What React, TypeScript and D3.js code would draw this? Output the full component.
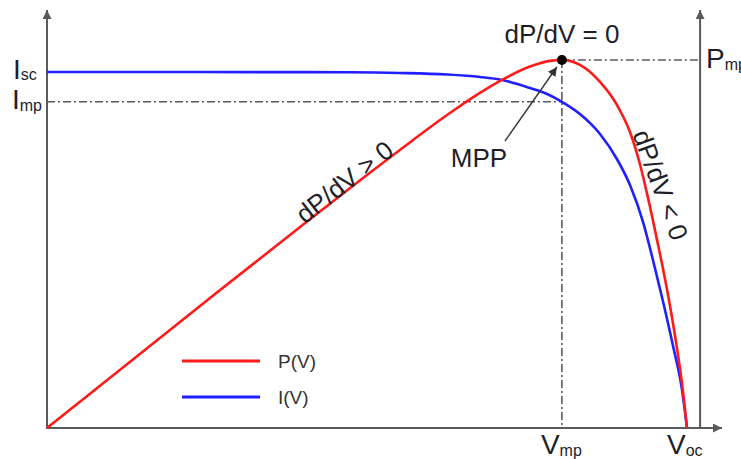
import React from "react";
import * as d3 from "d3";

// ---- data ----
const V_OC = 22.0;
const V_MP = 17.7;
const I_SC = 8.0;
const I_MP = 7.33;
const P_MP = 129.7;

const pVolts = [0, 5.26, 8.7, 12.13, 13.85, 14.88, 15.64, 16.6, 17.29, 17.7, 18.32, 19.01, 19.59, 20.04, 20.39, 20.66, 20.97, 21.31, 21.59, 21.83, 22.0];
const pWatts = [0, 43.0, 70.85, 98.0, 111.0, 118.1, 122.7, 127.4, 129.4, 129.7, 128.0, 122.0, 113.9, 104.3, 92.7, 81.1, 66.3, 49.0, 32.4, 15.5, 0];

const iVolts = [0, 5.26, 10.42, 12.13, 13.75, 14.88, 15.64, 16.6, 17.19, 17.7, 18.32, 19.01, 19.59, 20.04, 20.49, 20.83, 21.18, 21.52, 21.83, 22.0];
const iAmps = [8.0, 8.0, 7.993, 7.978, 7.944, 7.888, 7.82, 7.64, 7.506, 7.33, 7.056, 6.607, 6.045, 5.461, 4.629, 3.775, 2.831, 1.843, 0.854, 0];

const legendLabels = ["P(V)", "I(V)"];
const legendColors = ["#ff1a1a", "#1f1fff"];

const W = 741;
const H = 459;
const FONT = "'Liberation Sans', Arial, Helvetica, sans-serif";
const AXIS = "#5a5a5a";
const TXT = "#1e1e28";

export default function App() {
  const x = d3.scaleLinear().domain([0, V_OC]).range([47, 687]);
  const yI = d3.scaleLinear().domain([0, I_SC]).range([428, 72]);
  const yP = d3.scaleLinear().domain([0, P_MP]).range([428, 60]);

  const pData = pVolts.map((v, i) => [v, pWatts[i]] as [number, number]);
  const iData = iVolts.map((v, i) => [v, iAmps[i]] as [number, number]);

  const pLine = d3
    .line<[number, number]>()
    .x((d) => x(d[0]))
    .y((d) => yP(d[1]))
    .curve(d3.curveMonotoneX);
  const iLine = d3
    .line<[number, number]>()
    .x((d) => x(d[0]))
    .y((d) => yI(d[1]))
    .curve(d3.curveMonotoneX);

  const x0 = x(0);
  const y0 = yI(0);
  const xRight = x(22.45);
  const yTop = 10;
  const xEnd = 722;
  const dash = "8,3,2,3";

  const mx = x(V_MP);
  const my = yP(P_MP);

  return (
    <div style={{ position: "absolute", left: 0, top: 0 }}>
      <svg width={W} height={H} style={{ display: "block", background: "#fff" }}>
        <defs>
          <marker id="ah" viewBox="0 0 10 10" refX="10" refY="5" markerWidth="9" markerHeight="9" markerUnits="userSpaceOnUse" orient="auto">
            <path d="M0,0 L10,5 L0,10 z" fill={AXIS} />
          </marker>
          <marker id="ah2" viewBox="0 0 10 10" refX="10" refY="5" markerWidth="9" markerHeight="9" markerUnits="userSpaceOnUse" orient="auto">
            <path d="M0,0 L10,5 L0,10 z" fill="#333" />
          </marker>
        </defs>

        {/* dash-dot guides */}
        <line x1={x0} x2={mx} y1={yI(I_MP)} y2={yI(I_MP)} stroke={AXIS} strokeWidth={1.6} strokeDasharray={dash} />
        <line x1={mx} x2={xRight} y1={my} y2={my} stroke={AXIS} strokeWidth={1.6} strokeDasharray={dash} />
        <line x1={mx} x2={mx} y1={my} y2={y0} stroke={AXIS} strokeWidth={1.6} strokeDasharray={dash} />

        {/* axes */}
        <line x1={x0} x2={x0} y1={y0 + 1} y2={yTop} stroke={AXIS} strokeWidth={2} markerEnd="url(#ah)" />
        <line x1={xRight} x2={xRight} y1={y0} y2={yTop} stroke={AXIS} strokeWidth={2} markerEnd="url(#ah)" />
        <line x1={x0 - 1} x2={xEnd} y1={y0} y2={y0} stroke={AXIS} strokeWidth={2} markerEnd="url(#ah)" />

        {/* curves */}
        <path d={iLine(iData) || ""} fill="none" stroke={legendColors[1]} strokeWidth={2.6} />
        <path d={pLine(pData) || ""} fill="none" stroke={legendColors[0]} strokeWidth={2.6} />

        {/* MPP */}
        <line x1={505} y1={141} x2={mx - 5} y2={my + 7} stroke="#333" strokeWidth={1.4} markerEnd="url(#ah2)" />
        <circle cx={mx} cy={my} r={5} fill="#000" />

        <g fontFamily={FONT} fill={TXT}>
          <text x={mx} y={43} fontSize={26} textAnchor="middle">dP/dV = 0</text>
          <text x={479} y={167} fontSize={26} textAnchor="middle">MPP</text>
          <text x={350} y={189} fontSize={26} textAnchor="middle" transform="rotate(-38 350 189)">dP/dV &gt; 0</text>
          <text x={652} y={188} fontSize={26} textAnchor="middle" transform="rotate(70 652 188)">dP/dV &lt; 0</text>

          {/* axis labels */}
          <text x={13} y={yI(I_SC) + 7} fontSize={28}>I<tspan fontSize={16} dy={1}>sc</tspan></text>
          <text x={12} y={yI(I_MP) + 7} fontSize={28}>I<tspan fontSize={16} dy={2}>mp</tspan></text>
          <text x={706} y={yP(P_MP) + 8} fontSize={28}>P<tspan fontSize={16} dy={2}>mp</tspan></text>
          <text x={mx - 21} y={454} fontSize={28}>V<tspan fontSize={16} dy={2}>mp</tspan></text>
          <text x={x(V_OC) - 20} y={454} fontSize={28}>V<tspan fontSize={16} dy={2}>oc</tspan></text>
        </g>

        {/* legend */}
        <g fontFamily={FONT}>
          {legendLabels.map((lab, i) => (
            <g key={lab} transform={`translate(182, ${361 + i * 36})`}>
              <line x1={0} x2={78} y1={0} y2={0} stroke={legendColors[i]} strokeWidth={2.8} />
              <text x={96} y={7} fontSize={19} fill="#333">{lab}</text>
            </g>
          ))}
        </g>
      </svg>
    </div>
  );
}
